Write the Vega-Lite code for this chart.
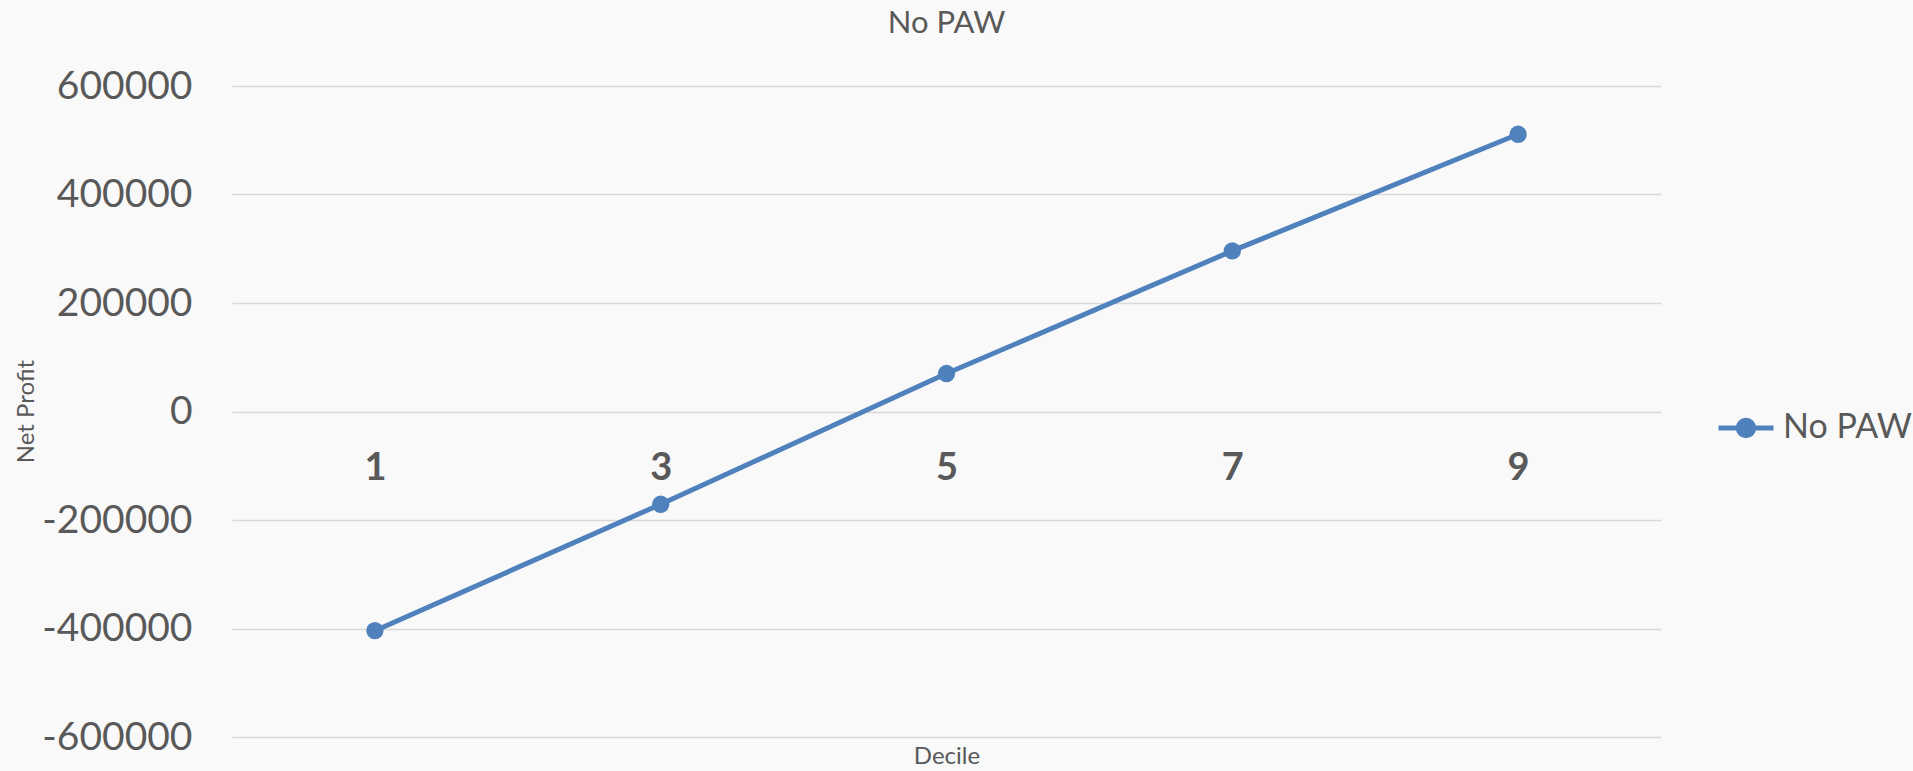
{
  "$schema": "https://vega.github.io/schema/vega-lite/v6.json",
  "autosize": {"type": "none"},
  "padding": {"left": 232, "top": 86, "right": 252, "bottom": 34},
  "width": 1429,
  "height": 651,
  "background": "#f9f9f9",
  "title": {
    "text": "No PAW",
    "fontSize": 31,
    "font": "Lato",
    "fontWeight": "normal",
    "color": "#595959",
    "anchor": "middle",
    "baseline": "alphabetic",
    "offset": 3
  },
  "data": {
    "values": [
      {"Decile": "1", "Net Profit": -404000, "Series": "No PAW"},
      {"Decile": "3", "Net Profit": -171000, "Series": "No PAW"},
      {"Decile": "5", "Net Profit": 70000, "Series": "No PAW"},
      {"Decile": "7", "Net Profit": 296000, "Series": "No PAW"},
      {"Decile": "9", "Net Profit": 511000, "Series": "No PAW"}
    ]
  },
  "mark": {
    "type": "line",
    "strokeWidth": 5,
    "point": {"filled": true, "size": 300}
  },
  "encoding": {
    "x": {
      "field": "Decile",
      "type": "ordinal",
      "sort": null,
      "scale": {"type": "point", "padding": 0.5},
      "axis": {
        "title": "Decile",
        "orient": "bottom",
        "offset": -326,
        "domain": false,
        "ticks": false,
        "grid": false,
        "labelAngle": 0,
        "labelFont": "Lato",
        "labelFontSize": 38,
        "labelFontWeight": "bold",
        "labelColor": "#595959",
        "labelPadding": 38,
        "titleFont": "Lato",
        "titleFontSize": 24,
        "titleFontWeight": "normal",
        "titleColor": "#595959",
        "titleY": 345,
        "titleBaseline": "middle"
      }
    },
    "y": {
      "field": "Net Profit",
      "type": "quantitative",
      "scale": {"domain": [-600000, 600000], "nice": false, "zero": false},
      "axis": {
        "title": "Net Profit",
        "values": [-600000, -400000, -200000, 0, 200000, 400000, 600000],
        "labelExpr": "'' + datum.value",
        "domain": false,
        "ticks": false,
        "grid": true,
        "gridColor": "#d9d9d9",
        "gridWidth": 1.5,
        "labelFont": "Lato",
        "labelFontSize": 39,
        "labelColor": "#595959",
        "labelPadding": 40,
        "titleFont": "Lato",
        "titleFontSize": 24,
        "titleFontWeight": "normal",
        "titleColor": "#595959",
        "titleAngle": -90,
        "titleX": -206,
        "titleY": 325,
        "titleAlign": "center",
        "titleBaseline": "middle"
      }
    },
    "color": {
      "field": "Series",
      "type": "nominal",
      "scale": {"range": ["#4f81bd"]},
      "legend": {
        "title": null,
        "orient": "none",
        "legendX": 1484,
        "legendY": 312,
        "padding": 0,
        "symbolType": "M -1 0 H -0.28 M 0.28 0 H 1 M -0.28 0 A 0.28 0.28 0 1 1 0.28 0 A 0.28 0.28 0 1 1 -0.28 0 Z",
        "symbolSize": 3025,
        "symbolStrokeWidth": 5,
        "symbolFillColor": "#4f81bd",
        "symbolStrokeColor": "#4f81bd",
        "labelFont": "Lato",
        "labelFontSize": 34,
        "labelLimit": 300,
        "labelColor": "#595959",
        "labelOffset": 7,
        "labelBaseline": "middle"
      }
    }
  },
  "config": {
    "view": {"stroke": null}
  }
}
